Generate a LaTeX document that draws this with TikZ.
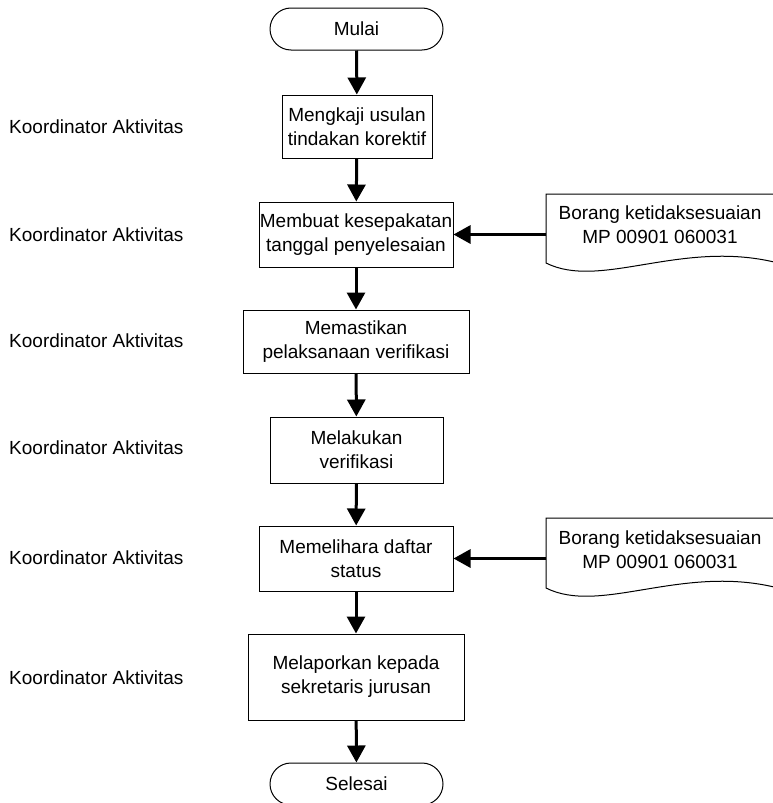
\documentclass[tikz,border=0pt]{standalone}
\usepackage{fontspec}
\setmainfont{Liberation Sans}
\usetikzlibrary{arrows.meta,shapes.misc}
\begin{document}
\begin{tikzpicture}[x=1pt,y=-1pt,
  every node/.style={font=\fontsize{19}{24}\selectfont, inner sep=0pt},
  procbox/.style={draw=black, line width=1pt, align=center, fill=white},
  term/.style={draw=black, line width=1pt, rounded rectangle, minimum width=173pt, minimum height=42pt},
  arr/.style={line width=3pt, -{Triangle[length=17pt,width=18pt]}},
  role/.style={anchor=west},
  docshape/.style={draw=black, line width=1pt, fill=white}
]
\useasboundingbox (0,0) rectangle (773,803);
\clip (0,0) rectangle (773,803);

% terminals
\node[term] (start) at (356.5,29) {Mulai};
\node[term] (stop) at (356.5,784) {Selesai};

% process boxes
\node[procbox, minimum width=150pt, minimum height=63pt] (b1) at (357,126.5) {Mengkaji usulan\\tindakan korektif};
\node[procbox, minimum width=194pt, minimum height=65pt] (b2) at (356,234.5) {Membuat kesepakatan\\tanggal penyelesaian};
\node[procbox, minimum width=226pt, minimum height=63pt] (b3) at (356,341.5) {Memastikan\\pelaksanaan verifikasi};
\node[procbox, minimum width=173pt, minimum height=66pt] (b4) at (356.5,450) {Melakukan\\verifikasi};
\node[procbox, minimum width=194pt, minimum height=65pt] (b5) at (356,558.5) {Memelihara daftar\\status};
\node[procbox, minimum width=216pt, minimum height=86pt] (b6) at (356,677) {Melaporkan kepada\\sekretaris jurusan};

% role labels
\node[role] (r1) at (9,127) {Koordinator Aktivitas};
\node[role] (r2) at (9,235) {Koordinator Aktivitas};
\node[role] (r3) at (9,341) {Koordinator Aktivitas};
\node[role] (r4) at (9,448) {Koordinator Aktivitas};
\node[role] (r5) at (9,558) {Koordinator Aktivitas};
\node[role] (r6) at (9,678) {Koordinator Aktivitas};

% documents
\draw[docshape] (546,263) -- (546,194) -- (774,194) -- (774,262)
  .. controls (680,240) and (600,290) .. (546,263) -- cycle;
\node[align=center] (d1) at (660,225) {Borang ketidaksesuaian\\MP 00901 060031};
\coordinate (d1w) at (546,234.5);

\draw[docshape] (546,588) -- (546,518) -- (774,518) -- (774,587)
  .. controls (680,565) and (600,615) .. (546,588) -- cycle;
\node[align=center] (d2) at (660,550) {Borang ketidaksesuaian\\MP 00901 060031};
\coordinate (d2w) at (546,558.5);

% connectors
\draw[arr] (start) -- (b1);
\draw[arr] (b1) -- (b2);
\draw[arr] (b2) -- (b3);
\draw[arr] (b3) -- (b4);
\draw[arr] (b4) -- (b5);
\draw[arr] (b5) -- (b6);
\draw[arr] (b6) -- (stop);
\draw[arr] (d1w) -- (b2.east);
\draw[arr] (d2w) -- (b5.east);
\end{tikzpicture}
\end{document}
